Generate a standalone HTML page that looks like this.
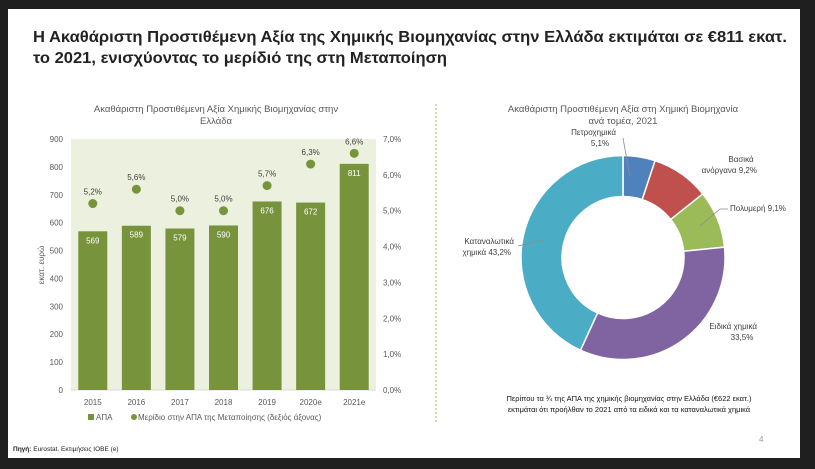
<!DOCTYPE html>
<html><head><meta charset="utf-8">
<style>
body{margin:0;width:815px;height:469px;background:#1f1f1f;overflow:hidden;font-family:"Liberation Sans","DejaVu Sans",sans-serif;}
#slide{position:absolute;left:8px;top:9px;width:792px;height:449px;background:#fff;}
svg{position:absolute;left:0;top:0;}
</style></head><body>
<div id="slide"></div>
<svg id="c" width="815" height="469">
<text x="33" y="42" font-size="16" font-weight="bold" fill="#222" textLength="754" lengthAdjust="spacingAndGlyphs">Η Ακαθάριστη Προστιθέμενη Αξία της Χημικής Βιομηχανίας στην Ελλάδα εκτιμάται σε €811 εκατ.</text>
<text x="33" y="63" font-size="16" font-weight="bold" fill="#222" textLength="414" lengthAdjust="spacingAndGlyphs">το 2021, ενισχύοντας το μερίδιό της στη Μεταποίηση</text>
<text x="216" y="112" font-size="9.5" fill="#595959" text-anchor="middle">Ακαθάριστη Προστιθέμενη Αξία Χημικής Βιομηχανίας στην</text>
<text x="216" y="124" font-size="9.5" fill="#595959" text-anchor="middle">Ελλάδα</text>
<rect x="71" y="139" width="305" height="251" fill="#ebf1de"/>
<g id="bars"></g>
<text x="44" y="265" font-size="8" fill="#595959" text-anchor="middle" transform="rotate(-90 44 265)">εκατ. ευρώ</text>
<rect x="88" y="414" width="6" height="6" fill="#77933c"/>
<text x="96" y="420" font-size="8" fill="#595959">ΑΠΑ</text>
<circle cx="134" cy="417" r="3" fill="#77933c"/>
<text x="138" y="420" font-size="8" fill="#595959">Μερίδιο στην ΑΠΑ της Μεταποίησης (δεξιός άξονας)</text>
<text x="13" y="451" font-size="6.5" fill="#222"><tspan font-weight="bold">Πηγή:</tspan> Eurostat. Εκτιμήσεις ΙΟΒΕ (e)</text>
<line x1="436" y1="104" x2="436" y2="424" stroke="#9bbb59" stroke-dasharray="2,2" stroke-width="1"/>
<text x="623" y="112" font-size="9.5" fill="#595959" text-anchor="middle">Ακαθάριστη Προστιθέμενη Αξία στη Χημική Βιομηχανία</text>
<text x="623" y="124" font-size="9.5" fill="#595959" text-anchor="middle">ανά τομέα, 2021</text>
<g id="donut"></g>
<g font-size="8" fill="#404040">
<text x="616" y="135" text-anchor="end">Πετροχημικά</text>
<text x="600" y="146" text-anchor="middle">5,1%</text>
<text x="741" y="162" text-anchor="middle">Βασικά</text>
<text x="757" y="173" text-anchor="end">ανόργανα 9,2%</text>
<text x="730" y="211">Πολυμερή 9,1%</text>
<text x="757" y="329" text-anchor="end">Ειδικά χημικά</text>
<text x="742" y="340" text-anchor="middle">33,5%</text>
<text x="514" y="244" text-anchor="end">Καταναλωτικά</text>
<text x="511" y="255" text-anchor="end">χημικά 43,2%</text>
</g>
<g stroke="#8c8c8c" stroke-width="0.8" fill="none">
<polyline points="623,138 630,177"/>
<polyline points="728,209 720,209 700,226"/>
<polyline points="518,246 543,240"/>
</g>
<text x="629" y="401" font-size="7.5" fill="#111" text-anchor="middle">Περίπου τα ¾ της ΑΠΑ της χημικής βιομηχανίας στην Ελλάδα (€622 εκατ.)</text>
<text x="629" y="412" font-size="7.5" fill="#111" text-anchor="middle">εκτιμάται ότι προήλθαν το 2021 από τα ειδικά και τα καταναλωτικά χημικά</text>
<text x="759" y="442" font-size="8" fill="#999">4</text>
</svg>
<script>
const years=["2015","2016","2017","2018","2019","2020e","2021e"];
const apa=[569,589,579,590,676,672,811];
const share=[5.2,5.6,5.0,5.0,5.7,6.3,6.6];
const leftTicks=[0,100,200,300,400,500,600,700,800,900];
const rightTicks=[0,1,2,3,4,5,6,7];
const sectors=["Πετροχημικά","Βασικά ανόργανα","Πολυμερή","Ειδικά χημικά","Καταναλωτικά χημικά"];
const sectorShare=[5.1,9.2,9.1,33.5,43.2];
const sectorColors=["#4f81bd","#c0504d","#9bbb59","#8064a2","#4bacc6"];

const NS="http://www.w3.org/2000/svg";
const X0=71,X1=376,Y0=390,Y1=139;
const yL=v=>Y0-(v/900)*(Y0-Y1);
const yR=v=>Y0-(v/7)*(Y0-Y1);
const bw=(X1-X0)/years.length;
const xC=i=>X0+bw*(i+0.5);
function mk(tag,attrs,parent,text){const e=document.createElementNS(NS,tag);for(const k in attrs)e.setAttribute(k,attrs[k]);if(text!==undefined)e.textContent=text;parent.appendChild(e);return e;}
const g=document.getElementById('bars');
leftTicks.forEach(t=>{const e=mk('text',{x:63,y:yL(t)+3,'font-size':8,fill:'#595959','text-anchor':'end'},g,String(t));

});
rightTicks.forEach(t=>{const e=mk('text',{x:383,y:yR(t)+3,'font-size':8,fill:'#595959'},g,t.toFixed(1).replace('.',',')+'%');

});
const ax=mk('line',{x1:X0,x2:X1,y1:Y0,y2:Y0,stroke:'#d9d9d9'},g);


years.forEach((y,i)=>{
 const h=Y0-yL(apa[i]);
 const r=mk('rect',{x:xC(i)-14.5,y:yL(apa[i]),width:29,height:h,fill:'#77933c'},g);
 
 
 const v=mk('text',{x:xC(i),y:yL(apa[i])+12,'font-size':8,fill:'#fff','text-anchor':'middle'},g,String(apa[i]));
 
 
 const c=mk('circle',{cx:xC(i),cy:yR(share[i]),r:4.5,fill:'#77933c'},g);
 
 
 const s=mk('text',{x:xC(i),y:yR(share[i])-9,'font-size':8,fill:'#404040','text-anchor':'middle'},g,share[i].toFixed(1).replace('.',',')+'%');
 
 
 const xl=mk('text',{x:xC(i),y:405,'font-size':8,fill:'#595959','text-anchor':'middle'},g,y);
 
 
});
const d=document.getElementById('donut');
const cx=623,cy=257.5,R=102,r0=61;
const tot=sectorShare.reduce((a,b)=>a+b,0);
let a=0;
sectorShare.forEach((v,i)=>{
 const a1=a,a2=a+v/tot*2*Math.PI;a=a2;
 const p=(ang,rr)=>[cx+rr*Math.sin(ang),cy-rr*Math.cos(ang)];
 const [x1,y1]=p(a1,R),[x2,y2]=p(a2,R),[x3,y3]=p(a2,r0),[x4,y4]=p(a1,r0);
 const lg=(a2-a1)>Math.PI?1:0;
 const path=mk('path',{d:`M${x1},${y1}A${R},${R} 0 ${lg} 1 ${x2},${y2}L${x3},${y3}A${r0},${r0} 0 ${lg} 0 ${x4},${y4}Z`,fill:sectorColors[i],stroke:'#fff','stroke-width':1.5},d);
 
 
});
</script>
</body></html>
